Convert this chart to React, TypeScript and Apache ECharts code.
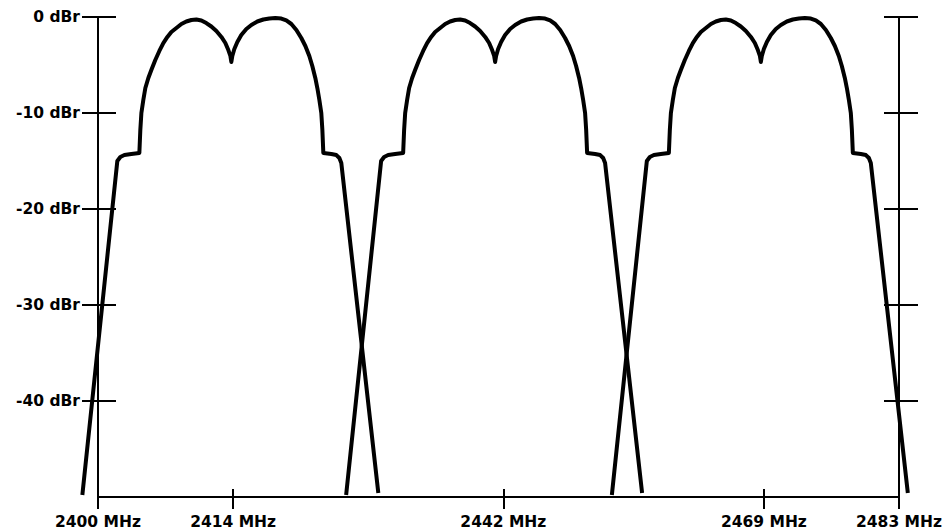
import React, { useEffect, useRef } from "react";
import * as echarts from "echarts";

const xTicksMHz = [2400, 2414, 2442, 2469, 2483];
const yTicksDbr = [0, -10, -20, -30, -40];
const channelCentersMHz = [2413.8, 2441.1, 2468.6];

// spectral mask profile of one channel: offset from channel centre (MHz) and level (dBr)
const profileOffsetMHz = [
  -15.42, -11.8, -11.49, -11.07, -10.35, -9.52, -9.42, -9.31, -9.11, -8.9, -8.59, -8.28,
  -7.87, -7.45, -7.04, -6.62, -6.21, -5.69, -5.17, -4.66, -4.14, -3.62, -3.1, -2.59,
  -2.07, -1.55, -1.03, -0.62, -0.31, -0.1, 0, 0.1, 0.31, 0.62, 1.03, 1.55, 2.07, 2.69,
  3.31, 3.93, 4.55, 5.17, 5.69, 6.21, 6.73, 7.24, 7.66, 8.07, 8.38, 8.69, 8.9, 9.11,
  9.31, 9.42, 9.52, 10.35, 10.87, 11.18, 11.38, 15.21,
];
const profileLevelDbr = [
  -49.79, -15.0, -14.58, -14.38, -14.27, -14.17, -11.77, -10.0, -8.65, -7.4, -6.35, -5.52,
  -4.48, -3.54, -2.71, -2.08, -1.56, -1.15, -0.73, -0.47, -0.31, -0.26, -0.36, -0.63,
  -0.99, -1.46, -2.08, -2.71, -3.44, -4.06, -4.69, -4.06, -3.33, -2.6, -1.88, -1.25,
  -0.83, -0.47, -0.26, -0.16, -0.1, -0.16, -0.36, -0.73, -1.35, -2.19, -3.02, -4.06,
  -5.1, -6.35, -7.4, -8.65, -10.0, -11.77, -14.17, -14.27, -14.38, -14.69, -15.21, -49.58,
];

// frequency span of the axes, and the slightly wider span used for the curves' grid
const xMin = 2400;
const xMax = 2483;
const curveXMin = 2398;
const curveXMax = 2485;

export default function App() {
  const ref = useRef<HTMLDivElement>(null);
  useEffect(() => {
    const chart = echarts.init(ref.current!, null, { renderer: "svg" });
    const font = {
      fontFamily: "DejaVu Sans",
      fontWeight: "bold" as const,
      fontSize: 15.5,
      color: "#000",
    };
    const line = { color: "#000", width: 2 };
    const gridLeft = 98;
    const gridRight = 45;
    const plotW = 945 - gridLeft - gridRight;
    const pxPerMHz = plotW / (xMax - xMin);
    const curveLeft = gridLeft - (xMin - curveXMin) * pxPerMHz;
    const curveRight = gridRight - (curveXMax - xMax) * pxPerMHz;
    const yBase = {
      type: "value" as const,
      gridIndex: 0,
      min: -50,
      max: 0,
      axisLine: { show: true, onZero: false, lineStyle: line },
      splitLine: { show: false },
    };
    const xBase = {
      type: "value" as const,
      gridIndex: 0,
      min: xMin,
      max: xMax,
      position: "bottom" as const,
      axisLine: { show: true, onZero: false, lineStyle: line },
      splitLine: { show: false },
    };
    chart.setOption({
      animation: false,
      backgroundColor: "#fff",
      grid: [
        { left: gridLeft, right: gridRight, top: 17, bottom: 34, containLabel: false },
        { left: curveLeft, right: curveRight, top: 17, bottom: 34, containLabel: false },
      ],
      xAxis: [
        {
          ...xBase,
          axisTick: { show: true, inside: false, length: 12, customValues: xTicksMHz, lineStyle: line },
          axisLabel: {
            ...font,
            customValues: xTicksMHz,
            margin: 17,
            formatter: (v: number) => `${v} MHz`,
          },
        },
        {
          ...xBase,
          axisTick: { show: true, inside: true, length: 8, customValues: xTicksMHz, lineStyle: line },
          axisLabel: { show: false },
        },
        {
          type: "value",
          gridIndex: 1,
          min: curveXMin,
          max: curveXMax,
          show: false,
        },
      ],
      yAxis: [
        {
          ...yBase,
          position: "left",
          axisTick: { show: true, inside: false, length: 16, customValues: yTicksDbr, lineStyle: line },
          axisLabel: {
            ...font,
            customValues: yTicksDbr,
            margin: 18,
            formatter: (v: number) => `${v} dBr`,
          },
        },
        {
          ...yBase,
          position: "left",
          axisTick: { show: true, inside: true, length: 18, customValues: yTicksDbr, lineStyle: line },
          axisLabel: { show: false },
        },
        {
          ...yBase,
          position: "right",
          axisTick: { show: true, inside: false, length: 19, customValues: yTicksDbr, lineStyle: line },
          axisLabel: { show: false },
        },
        {
          ...yBase,
          position: "right",
          axisTick: { show: true, inside: true, length: 15, customValues: yTicksDbr, lineStyle: line },
          axisLabel: { show: false },
        },
        {
          type: "value",
          gridIndex: 1,
          min: -50,
          max: 0,
          show: false,
        },
      ],
      series: channelCentersMHz.map((c, i) => ({
        type: "line",
        name: `Channel ${i + 1}`,
        xAxisIndex: 2,
        yAxisIndex: 4,
        clip: false,
        showSymbol: false,
        smooth: false,
        lineStyle: { color: "#000", width: 4, join: "round", cap: "butt" },
        data: profileOffsetMHz.map((dx, k) => [c + dx, profileLevelDbr[k]]),
      })),
    });
    return () => chart.dispose();
  }, []);
  return (
    <div
      ref={ref}
      style={{ position: "fixed", left: 0, top: 0, width: 945, height: 531, background: "#fff" }}
    />
  );
}
